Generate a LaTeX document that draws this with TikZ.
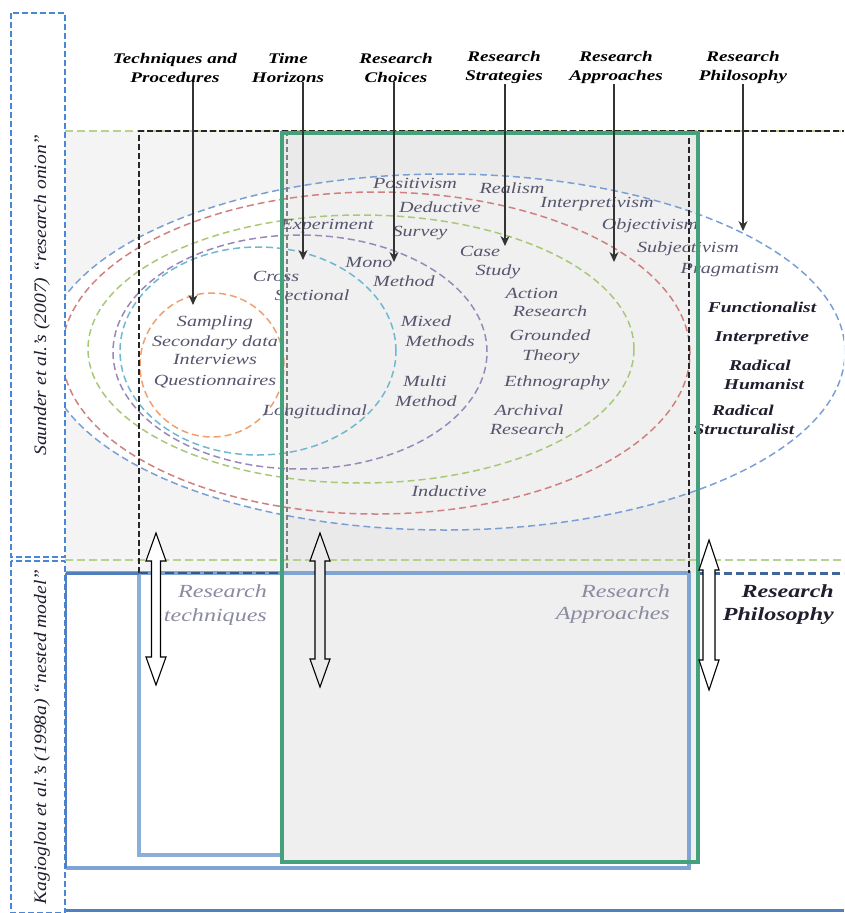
\documentclass[tikz,border=0pt]{standalone}
\usepackage{fontspec}
\setmainfont{Liberation Serif}[FakeStretch=1.3]
\newfontfamily\sidefont{Liberation Serif}[FakeStretch=1.12]
\usetikzlibrary{arrows.meta}
\definecolor{bgleft}{HTML}{F4F4F4}
\definecolor{bggreen}{HTML}{EAEAEA}
\definecolor{bginner}{HTML}{F0F0F0}
\definecolor{bgbottom}{HTML}{EFEFEF}
\definecolor{oniontext}{HTML}{55556E}
\definecolor{philtext}{HTML}{1E1E2E}
\definecolor{nestgray}{HTML}{8A8AA0}
\definecolor{arrowgray}{HTML}{333333}
\definecolor{onblue}{HTML}{7A9FD4}
\definecolor{onred}{HTML}{D08080}
\definecolor{ongreen}{HTML}{A8C878}
\definecolor{onpurple}{HTML}{9A88BB}
\definecolor{oncyan}{HTML}{6FB8D0}
\definecolor{onorange}{HTML}{F0A070}
\definecolor{lgreen}{HTML}{B8D090}
\definecolor{frame}{HTML}{45A07C}
\definecolor{bluedark}{HTML}{4F7FBF}
\definecolor{bluemid}{HTML}{7FA3D3}
\definecolor{blueinner}{HTML}{8CAEDB}
\definecolor{colblue}{HTML}{4A86D8}
\begin{document}
\begin{tikzpicture}[x=1pt,y=-1pt,
  onion/.style={font=\fontsize{15.5}{18}\selectfont\itshape, text=oniontext, inner sep=0pt, text height=10pt, text depth=3pt},
  phil/.style={font=\fontsize{15}{18}\selectfont\bfseries\itshape, text=philtext, inner sep=0pt, text height=10pt, text depth=3pt},
  toplab/.style={font=\fontsize{14.7}{19}\selectfont\bfseries\itshape, align=center, inner sep=0pt, text=black},
  toparrow/.style={draw=arrowgray, line width=1.1pt, -{Stealth[length=10pt,width=9pt]}},
  layer/.style={dash pattern=on 7pt off 4pt, line width=1.5pt},
  nestlab/.style={font=\fontsize{18.5}{23}\selectfont\itshape, text=nestgray, inner sep=0pt, text height=12pt, text depth=4pt, anchor=east},
  nestbold/.style={font=\fontsize{18.5}{23}\selectfont\bfseries\itshape, text=philtext, inner sep=0pt, text height=12pt, text depth=4pt, anchor=east},
  sidelab/.style={font=\fontsize{17.5}{20}\selectfont\sidefont\itshape, text=philtext, inner sep=0pt, rotate=90},
  dblarrow/.style={draw=black, line width=1.1pt, line join=miter},
  coldash/.style={draw=colblue, line width=1.2pt, dash pattern=on 6pt off 3pt},
  blackdash/.style={draw=black!85, line width=1.3pt, dash pattern=on 6pt off 3pt},
  greendash/.style={draw=lgreen, line width=1.3pt, dash pattern=on 8pt off 4pt}
]
\useasboundingbox (0,0) rectangle (844,913);

% ---------- backgrounds ----------
\fill[bgleft] (65,131) rectangle (282,573);
\begin{scope}
  \clip (65,131) rectangle (282,573);
  \fill[white] (445,352) ellipse [x radius=400pt, y radius=178pt];
\end{scope}
\fill[bggreen] (282,133) rectangle (698,573);
\fill[bgbottom] (282,573) rectangle (698,862);
\begin{scope}
  \clip (282,133) rectangle (698,573);
  \fill[bginner] (445,352) ellipse [x radius=400pt, y radius=178pt];
\end{scope}

% ---------- onion layers ----------
\begin{scope}
  \clip (65,0) rectangle (844,913);
  \draw[layer, onblue]   (445,352) ellipse [x radius=400pt, y radius=178pt];
  \draw[layer, onred]    (376,353) ellipse [x radius=314pt, y radius=161pt];
  \draw[layer, ongreen]  (361,349) ellipse [x radius=273pt, y radius=134pt];
  \draw[layer, onpurple] (300,352) ellipse [x radius=187pt, y radius=117pt];
  \draw[layer, oncyan]   (258,351) ellipse [x radius=138pt, y radius=104pt];
  \draw[layer, onorange] (212,365) ellipse [x radius=72pt, y radius=72pt];
\end{scope}

% ---------- left column boxes ----------
\draw[coldash] (11,13) rectangle (65,557);
\draw[coldash] (11,561) rectangle (65,913);

% ---------- dashed guide lines ----------
\draw[greendash] (65,131) -- (844,131);
\draw[greendash] (65,560) -- (844,560);
\draw[draw=gray, line width=1.1pt, dash pattern=on 5pt off 3pt] (287,131) -- (287,573);

% ---------- nested model rectangles ----------
\draw[bluemid, line width=4pt] (66,573) -- (689,573) -- (689,868) -- (66,868);
\draw[bluedark, line width=2pt] (66,573) -- (66,868);
\draw[blueinner, line width=4pt] (139,573) -- (139,855) -- (284,855);
\draw[bluedark, line width=3pt] (66,573) -- (139,573);
\draw[bluedark, line width=3pt] (66,910) -- (844,910);
\draw[bluedark!80!black, line width=3pt, dash pattern=on 8pt off 4pt] (700,573) -- (844,573);

\draw[blackdash] (139,573) -- (139,131) -- (689,131) -- (689,573);
\draw[blackdash] (689,131) -- (844,131);
\draw[draw=bluedark!70!black, line width=2pt, dash pattern=on 9pt off 4pt] (139,573) -- (282,573);

% ---------- onion texts ----------
\node[onion] (positivism) at (415,185) {Positivism};
\node[onion] (realism) at (512,190) {Realism};
\node[onion] (deductive) at (440,209) {Deductive};
\node[onion] (interpretivism) at (597,204) {Interpretivism};
\node[onion] (experiment) at (327,226) {Experiment};
\node[onion] (survey) at (420,233) {Survey};
\node[onion] (objectivism) at (650,226) {Objectivism};
\node[onion] (case) at (480,253) {Case};
\node[onion] (subjectivism) at (688,249) {Subjectivism};
\node[onion] (mono) at (369,264) {Mono};
\node[onion] (study) at (498,272) {Study};
\node[onion] (pragmatism) at (730,270) {Pragmatism};
\node[onion] (cross) at (276,278) {Cross};
\node[onion] (monomethod) at (404,283) {Method};
\node[onion] (sectional) at (312,297) {Sectional};
\node[onion] (action) at (532,295) {Action};
\node[onion] (actionres) at (550,313) {Research};
\node[onion] (sampling) at (215,323) {Sampling};
\node[onion] (mixed) at (426,323) {Mixed};
\node[onion] (grounded) at (550,337) {Grounded};
\node[onion] (secondary) at (215,343) {Secondary data};
\node[onion] (methods) at (440,343) {Methods};
\node[onion] (theory) at (551,357) {Theory};
\node[onion] (interviews) at (215,361) {Interviews};
\node[onion] (questionnaires) at (215,382) {Questionnaires};
\node[onion] (multi) at (425,383) {Multi};
\node[onion] (ethnography) at (557,383) {Ethnography};
\node[onion] (multimethod) at (426,403) {Method};
\node[onion] (longitudinal) at (315,412) {Longitudinal};
\node[onion] (archival) at (529,412) {Archival};
\node[onion] (archres) at (527,431) {Research};
\node[onion] (inductive) at (449,493) {Inductive};

\node[phil] (functionalist) at (762,309) {Functionalist};
\node[phil] (interpretive) at (762,338) {Interpretive};
\node[phil] (radical1) at (760,367) {Radical};
\node[phil] (humanist) at (764,386) {Humanist};
\node[phil] (radical2) at (743,412) {Radical};
\node[phil] (structuralist) at (744,431) {Structuralist};

% ---------- green frame ----------
\draw[frame, line width=4pt] (282,133) rectangle (698,862);

% ---------- top labels and arrows ----------
\node[toplab] (techlab) at (175,67.5) {Techniques and\\Procedures};
\node[toplab] (timelab) at (288,67.5) {Time\\Horizons};
\node[toplab] (choicelab) at (396,67.5) {Research\\Choices};
\node[toplab] (stratlab) at (504,67.5) {Research\\Strategies};
\node[toplab] (applab) at (616,67.5) {Research\\Approaches};
\node[toplab] (phillab) at (743,67.5) {Research\\Philosophy};

\coordinate (techtip) at (193,305);
\coordinate (timetip) at (303,260);
\coordinate (choicetip) at (394,262);
\coordinate (strattip) at (505,246);
\coordinate (apptip) at (614,262);
\coordinate (philtip) at (743,231);

\draw[toparrow] (techlab.south -| techtip) -- (techtip);
\draw[toparrow] (timelab.south -| timetip) -- (timetip);
\draw[toparrow] (choicelab.south -| choicetip) -- (choicetip);
\draw[toparrow] (stratlab.south -| strattip) -- (strattip);
\draw[toparrow] (applab.south -| apptip) -- (apptip);
\draw[toparrow] (phillab.south -| philtip) -- (philtip);

% ---------- hollow double arrows ----------
\draw[dblarrow, fill=white] (156,533) -- (166,561) -- (160.5,561) -- (160.5,657) -- (166,657) -- (156,685)
  -- (146,657) -- (151.5,657) -- (151.5,561) -- (146,561) -- cycle;
\draw[dblarrow, fill=black!8] (320,533) -- (330,561) -- (325,561) -- (325,659) -- (330,659) -- (320,687)
  -- (310,659) -- (315,659) -- (315,561) -- (310,561) -- cycle;
\draw[dblarrow, fill=white] (709,540) -- (719,570) -- (715,570) -- (715,660) -- (719,660) -- (709,690)
  -- (699,660) -- (703,660) -- (703,570) -- (699,570) -- cycle;

% ---------- nested model labels ----------
\node[nestlab] (rt1) at (267,593) {Research};
\node[nestlab] (rt2) at (267,617) {techniques};
\node[nestlab] (ra1) at (670,593) {Research};
\node[nestlab] (ra2) at (670,615) {Approaches};
\node[nestbold] (rp1) at (834,593) {Research};
\node[nestbold] (rp2) at (834,616) {Philosophy};

% ---------- side labels ----------
\node[sidelab] (saunders) at (42,295) {Saunder et al.’s (2007) “research onion”};
\node[sidelab] (kagioglou) at (42,737) {Kagioglou et al.’s (1998a) “nested model”};
\end{tikzpicture}
\end{document}
